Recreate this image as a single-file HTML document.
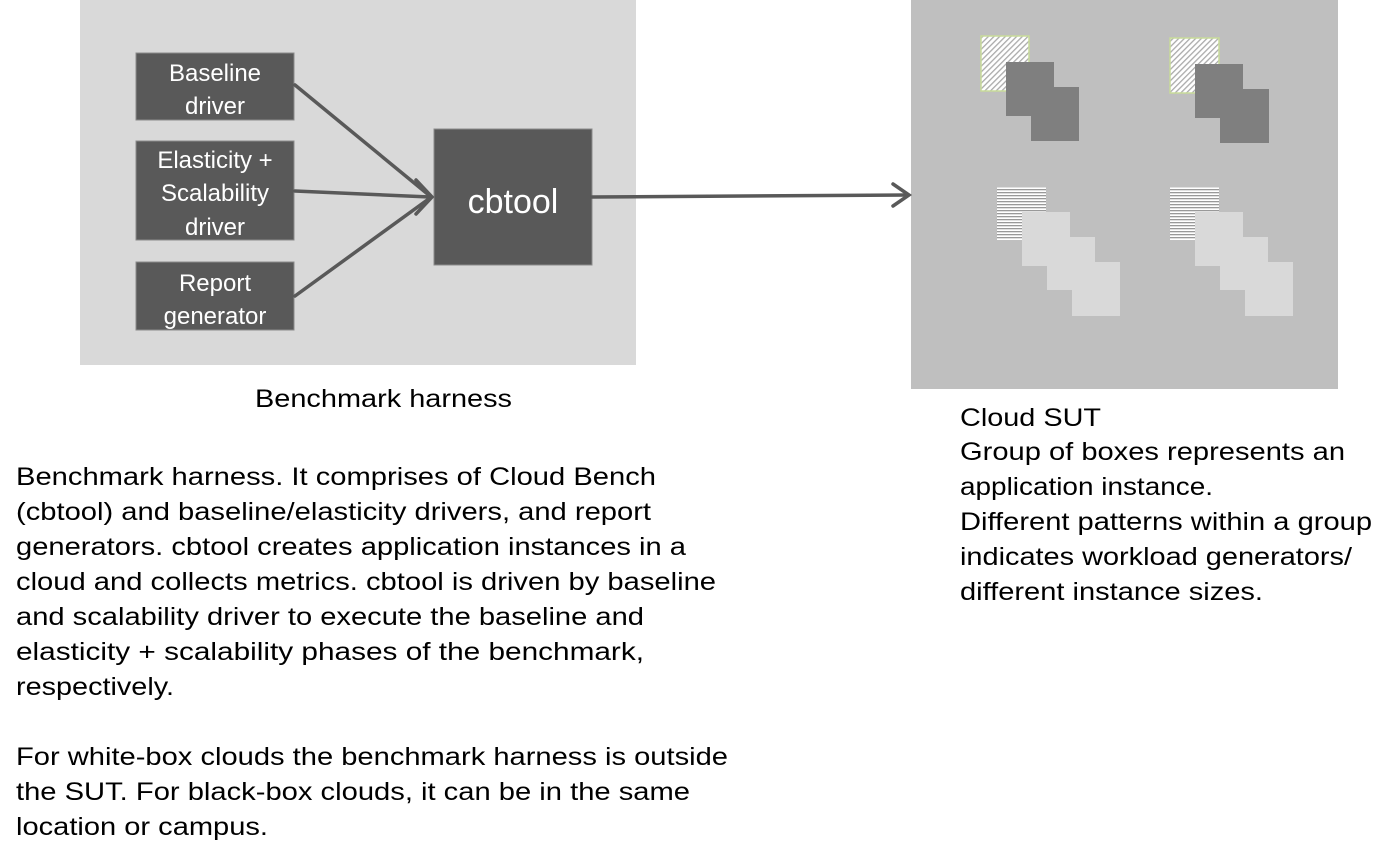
<!DOCTYPE html>
<html><head><meta charset="utf-8"><style>
html,body{margin:0;padding:0;background:#fff;}
svg{display:block;}
</style></head><body>
<svg width="1377" height="847" viewBox="0 0 1377 847" xmlns="http://www.w3.org/2000/svg">
<defs>
<pattern id="diag" width="4" height="4" patternUnits="userSpaceOnUse" patternTransform="rotate(45)">
<rect width="4" height="4" fill="#fff"/><rect width="1.3" height="4" fill="#aaa"/>
</pattern>
<pattern id="hor" width="4" height="3" patternUnits="userSpaceOnUse">
<rect width="4" height="3" fill="#fff"/><rect width="4" height="1.3" fill="#999"/>
</pattern>
</defs>
<rect x="80" y="0" width="556" height="365" fill="#d9d9d9"/>
<rect x="911" y="0" width="427" height="389" fill="#bfbfbf"/>

<g fill="#595959" stroke="#8a8a8a" stroke-width="1">
<rect x="136" y="53" width="158" height="67"/>
<rect x="136" y="141" width="158" height="99"/>
<rect x="136" y="262" width="158" height="68"/>
<rect x="434" y="129" width="158" height="136"/>
</g>
<g font-family="Liberation Sans, sans-serif" fill="#fff" text-anchor="middle" font-size="24">
<text x="215" y="81">Baseline</text>
<text x="215" y="114">driver</text>
<text x="215" y="168">Elasticity +</text>
<text x="215" y="201">Scalability</text>
<text x="215" y="235">driver</text>
<text x="215" y="291">Report</text>
<text x="215" y="324">generator</text>
<text x="513" y="213" font-size="34">cbtool</text>
</g>
<g stroke="#595959" stroke-width="3.5" fill="none" stroke-linecap="round">
<line x1="295" y1="85" x2="430" y2="196"/>
<line x1="295" y1="191" x2="430" y2="197"/>
<line x1="295" y1="296" x2="430" y2="198"/>
<polyline points="416,180 432,197 416,214"/>
<line x1="592" y1="197" x2="908" y2="195"/>
<polyline points="893,184 909,195 893,206"/>
</g>

<rect x="981" y="36" width="48" height="55" fill="url(#diag)" stroke="#c8dc9a" stroke-width="1.5"/>
<rect x="1006" y="62" width="48" height="54" fill="#7f7f7f"/>
<rect x="1031" y="87" width="48" height="54" fill="#7f7f7f"/>
<rect x="1170" y="38" width="49" height="55" fill="url(#diag)" stroke="#c8dc9a" stroke-width="1.5"/>
<rect x="1195" y="64" width="48" height="54" fill="#7f7f7f"/>
<rect x="1220" y="89" width="49" height="54" fill="#7f7f7f"/>
<rect x="997" y="187" width="49" height="53" fill="url(#hor)"/>
<rect x="1022" y="212" width="48" height="54" fill="#d9d9d9"/>
<rect x="1047" y="237" width="48" height="53" fill="#d9d9d9"/>
<rect x="1072" y="262" width="48" height="54" fill="#d9d9d9"/>
<rect x="1170" y="187" width="49" height="53" fill="url(#hor)"/>
<rect x="1195" y="212" width="48" height="54" fill="#d9d9d9"/>
<rect x="1220" y="237" width="48" height="53" fill="#d9d9d9"/>
<rect x="1245" y="262" width="48" height="54" fill="#d9d9d9"/>

<g font-family="Liberation Sans, sans-serif" fill="#000" font-size="25">
<text x="255" y="407" textLength="257" lengthAdjust="spacingAndGlyphs">Benchmark harness</text>
<text x="16" y="485" textLength="640" lengthAdjust="spacingAndGlyphs">Benchmark harness. It comprises of Cloud Bench</text>
<text x="16" y="520" textLength="635" lengthAdjust="spacingAndGlyphs">(cbtool) and baseline/elasticity drivers, and report</text>
<text x="16" y="555" textLength="670" lengthAdjust="spacingAndGlyphs">generators. cbtool creates application instances in a</text>
<text x="16" y="590" textLength="700" lengthAdjust="spacingAndGlyphs">cloud and collects metrics. cbtool is driven by baseline</text>
<text x="16" y="625" textLength="628" lengthAdjust="spacingAndGlyphs">and scalability driver to execute the baseline and</text>
<text x="16" y="660" textLength="628" lengthAdjust="spacingAndGlyphs">elasticity + scalability phases of the benchmark,</text>
<text x="16" y="695" textLength="158" lengthAdjust="spacingAndGlyphs">respectively.</text>
<text x="16" y="765" textLength="712" lengthAdjust="spacingAndGlyphs">For white-box clouds the benchmark harness is outside</text>
<text x="16" y="800" textLength="674" lengthAdjust="spacingAndGlyphs">the SUT. For black-box clouds, it can be in the same</text>
<text x="16" y="835" textLength="252" lengthAdjust="spacingAndGlyphs">location or campus.</text>
<text x="960" y="426" textLength="141" lengthAdjust="spacingAndGlyphs">Cloud SUT</text>
<text x="960" y="460" textLength="385" lengthAdjust="spacingAndGlyphs">Group of boxes represents an</text>
<text x="960" y="495" textLength="253" lengthAdjust="spacingAndGlyphs">application instance.</text>
<text x="960" y="530" textLength="412" lengthAdjust="spacingAndGlyphs">Different patterns within a group</text>
<text x="960" y="565" textLength="392" lengthAdjust="spacingAndGlyphs">indicates workload generators/</text>
<text x="960" y="600" textLength="303" lengthAdjust="spacingAndGlyphs">different instance sizes.</text>
</g>
</svg>
</body></html>
